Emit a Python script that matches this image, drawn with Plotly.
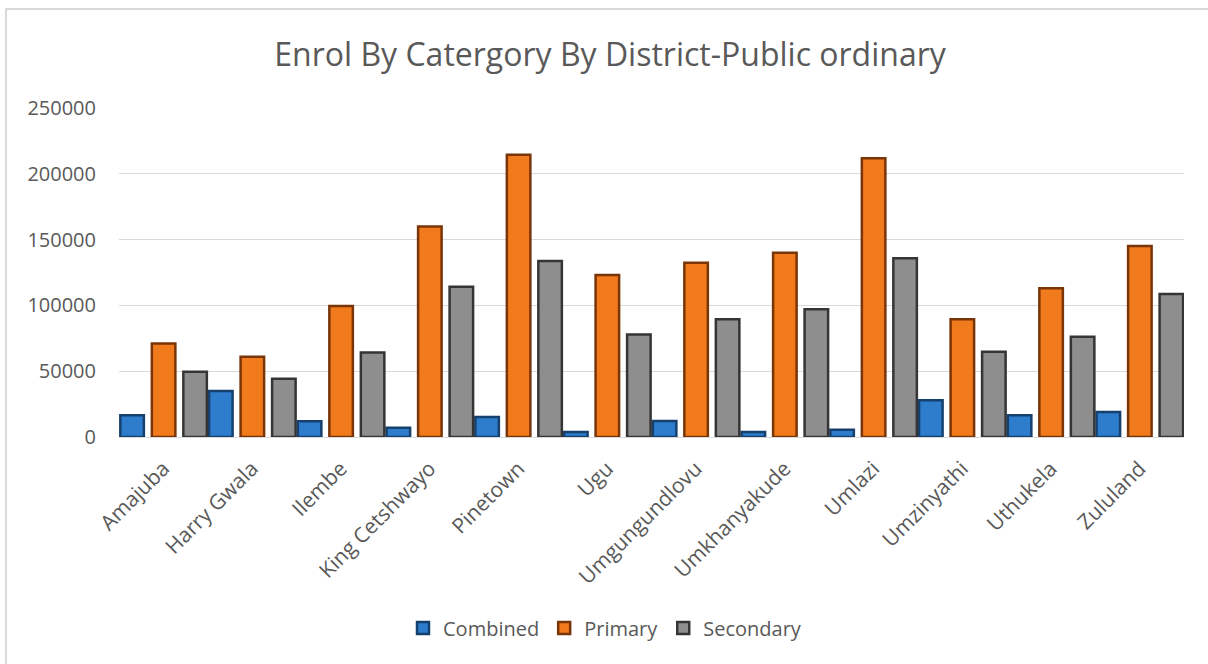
import plotly.graph_objects as go

# Enrolment by school category for each district (public ordinary schools)
districts = ["Amajuba", "Harry Gwala", "Ilembe", "King Cetshwayo", "Pinetown", "Ugu",
             "Umgungundlovu", "Umkhanyakude", "Umlazi", "Umzinyathi", "Uthukela", "Zululand"]
combined = [16500, 35000, 12000, 7000, 15200, 3800, 12200, 3800, 5600, 27900, 16500, 19000]
primary = [71100, 60900, 99500, 159900, 214400, 123100, 132500, 140100, 211900, 89400, 113000, 145200]
secondary = [49500, 44200, 64200, 114200, 133800, 77900, 89400, 97000, 135800, 64700, 76100, 108600]

y_ticks = [0, 50000, 100000, 150000, 200000, 250000]

series = [
    ("Combined", combined, "#2e7ccc", "#16416f", -0.485),
    ("Primary", primary, "#f07a1c", "#7a3507", -0.13),
    ("Secondary", secondary, "#8e8e8e", "#353535", 0.225),
]

BAR_W = 0.265

fig = go.Figure()
for name, vals, main, dark, off in series:
    fig.add_trace(go.Bar(
        x=districts, y=vals, name=name, offset=off, width=BAR_W,
        marker=dict(color=main, line=dict(width=2.5, color=dark)),
    ))

L, T, PW, PH = 119, 108, 1065, 329

fig.update_layout(
    width=1208, height=664,
    margin=dict(l=L, r=1208 - L - PW, t=T, b=664 - T - PH),
    paper_bgcolor="white", plot_bgcolor="white",
    barmode="overlay",
    font=dict(family="Open Sans, sans-serif", color="#595959"),
    title=dict(text="Enrol By Catergory By District-Public ordinary",
               x=0.505, xanchor="center", y=1 - 55 / 664, yanchor="middle",
               font=dict(size=32, color="#595959")),
    xaxis=dict(type="category", tickangle=-45, tickfont=dict(size=21, color="#595959"),
               showline=True, linecolor="#d9d9d9", linewidth=1, ticks="",
               showgrid=False, range=[-0.5, 11.5], ticklabelstandoff=10),
    yaxis=dict(range=[0, 250000], tickvals=y_ticks, tickformat="d",
               tickfont=dict(size=20, color="#595959"), showgrid=True,
               gridcolor="#d9d9d9", gridwidth=1, zeroline=False, ticks="",
               ticklabelstandoff=22),
    legend=dict(orientation="h", x=(605 - L) / PW, xanchor="center",
                y=(T + PH - 628) / PH, yanchor="middle",
                font=dict(size=20, color="#595959"), itemwidth=30,
                traceorder="normal"),
    shapes=[dict(type="rect", xref="paper", yref="paper",
                 x0=(6 - L) / PW, x1=1.2, y0=-1.0, y1=(T + PH - 9) / PH,
                 line=dict(color="#d9d9d9", width=2), fillcolor="rgba(0,0,0,0)",
                 layer="below")],
)

fig.write_html("out.html")
